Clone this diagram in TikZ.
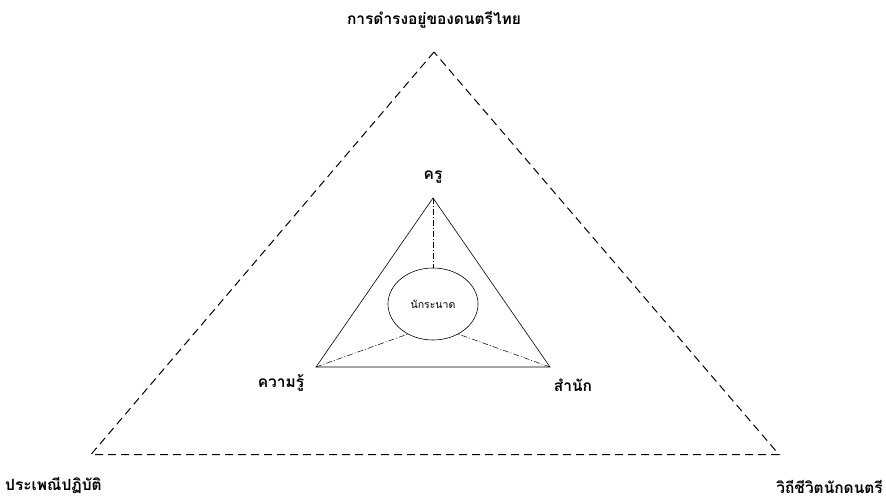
\documentclass[tikz,border=0pt]{standalone}
\usepackage{fontspec}
\newfontfamily\thaifont[Script=Thai]{Loma}
\usetikzlibrary{shapes.geometric}
\begin{document}
\begin{tikzpicture}[x=1pt,y=-1pt,
  lbl/.style={font=\thaifont\bfseries\fontsize{15.5}{18}\selectfont, inner sep=0pt},
  outer/.style={draw, line width=1pt, dash pattern=on 8pt off 5pt},
  inner/.style={draw, line width=0.6pt},
  dd/.style={draw, line width=0.5pt, dash pattern=on 6pt off 2pt on 1pt off 2pt}]
\useasboundingbox (0,0) rectangle (886,500);
\coordinate (A) at (434,52);
\coordinate (B) at (91,454.5);
\coordinate (C) at (779,454.5);
\draw[outer] (A) -- (B) -- (C) -- cycle;
\coordinate (a) at (433,198);
\coordinate (b) at (316,367);
\coordinate (c) at (550,367);
\draw[inner] (a) -- (b) -- (c) -- cycle;
\node[ellipse, draw, line width=0.6pt, minimum width=90pt, minimum height=72pt, inner sep=0pt,
  font=\thaifont\fontsize{10.5}{12}\selectfont] (e) at (433,304) {นักระนาด};
\draw[dd] (a) -- (e.north);
\draw[dd] (b) -- (e.-130);
\draw[dd] (c) -- (e.-50);
\node[lbl] (t) at (434,20) {การดำรงอยู่ของดนตรีไทย};
\node[lbl] (k) at (433,177) {ครู};
\node[lbl] (r) at (281,383) {ความรู้};
\node[lbl] (s) at (573,385) {สำนัก};
\node[lbl, anchor=west] (p) at (5,486) {ประเพณีปฏิบัติ};
\node[lbl, anchor=east] (w) at (883,487) {วิถีชีวิตนักดนตรี};
\end{tikzpicture}
\end{document}
